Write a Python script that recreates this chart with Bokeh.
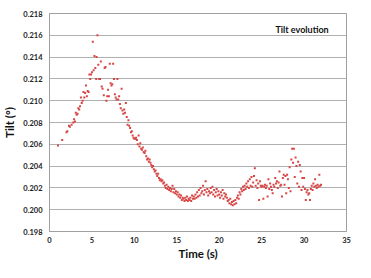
from bokeh.plotting import figure
from bokeh.models import FixedTicker, PrintfTickFormatter, Label, Range1d
from bokeh.embed import file_html
from bokeh.resources import INLINE

title_text = "Tilt evolution"
x_label = "Time (s)"
y_label = "Tilt (°)"
x_ticks = [0, 5, 10, 15, 20, 25, 30, 35]
y_ticks = [0.198, 0.200, 0.202, 0.204, 0.206, 0.208, 0.210, 0.212, 0.214, 0.216, 0.218]

time_rise = [1.0, 1.5, 2.0, 2.1, 2.3, 2.4, 2.6, 2.8, 2.9, 3.0,
             3.1, 3.2, 3.3, 3.4, 3.5, 3.6, 3.7, 3.8, 3.9, 4.0,
             4.1, 4.2, 4.3, 4.4, 4.5, 4.6, 4.7, 4.8, 4.9, 5.0]
tilt_rise = [0.2059, 0.2064, 0.2071, 0.2072, 0.2077, 0.2076, 0.2078, 0.2080, 0.2083, 0.2081,
             0.2089, 0.2087, 0.2088, 0.2093, 0.2092, 0.2095, 0.2103, 0.2098, 0.2100, 0.2108,
             0.2103, 0.2107, 0.2114, 0.2104, 0.2109, 0.2108, 0.2124, 0.2120, 0.2124, 0.2126]

time_peak = [5.1, 5.2, 5.3, 5.4, 5.5, 5.55, 5.65, 5.75, 5.85, 5.95,
             6.05, 6.15, 6.25, 6.4, 6.5, 6.6, 6.7, 6.8, 6.9, 7.0,
             7.1, 7.2, 7.3, 7.4, 7.5, 7.6, 7.7, 7.8, 7.9, 8.0,
             8.1, 8.2, 8.3, 8.4, 8.5, 8.6, 8.7, 8.8, 8.9, 9.0]
tilt_peak = [0.2154, 0.2128, 0.2141, 0.2130, 0.2120, 0.2140, 0.2160, 0.2133, 0.2120, 0.2120,
             0.2136, 0.2113, 0.2111, 0.2105, 0.2130, 0.2131, 0.2100, 0.2104, 0.2110, 0.2104,
             0.2134, 0.2116, 0.2114, 0.2115, 0.2134, 0.2120, 0.2106, 0.2103, 0.2101, 0.2120,
             0.2101, 0.2104, 0.2097, 0.2093, 0.2111, 0.2091, 0.2088, 0.2092, 0.2089, 0.2098]

time_fall = [9.1, 9.2, 9.3, 9.4, 9.5, 9.6, 9.7, 9.8, 9.9, 10.0,
             10.1, 10.2, 10.3, 10.4, 10.5, 10.6, 10.7, 10.8, 10.9, 11.0,
             11.1, 11.2, 11.3, 11.4, 11.5, 11.6, 11.7, 11.8, 11.9, 12.0,
             12.1, 12.2, 12.3, 12.4, 12.5, 12.6, 12.7, 12.8, 12.9, 13.0,
             13.1, 13.2, 13.3, 13.4, 13.5, 13.6, 13.7, 13.8, 13.9, 14.0,
             14.1, 14.2, 14.3, 14.4, 14.5, 14.6, 14.7, 14.8, 14.9, 15.0]
tilt_fall = [0.2085, 0.2078, 0.2082, 0.2077, 0.2075, 0.2071, 0.2072, 0.2068, 0.2066, 0.2065,
             0.2065, 0.2066, 0.2064, 0.2060, 0.2068, 0.2058, 0.2061, 0.2056, 0.2055, 0.2057,
             0.2053, 0.2052, 0.2054, 0.2049, 0.2046, 0.2047, 0.2044, 0.2046, 0.2043, 0.2041,
             0.2039, 0.2040, 0.2037, 0.2035, 0.2036, 0.2033, 0.2031, 0.2033, 0.2029, 0.2027,
             0.2028, 0.2026, 0.2027, 0.2024, 0.2025, 0.2022, 0.2020, 0.2023, 0.2019, 0.2021,
             0.2018, 0.2020, 0.2017, 0.2019, 0.2022, 0.2016, 0.2019, 0.2015, 0.2017, 0.2014]

time_flat = [15.1, 15.2, 15.3, 15.4, 15.5, 15.6, 15.7, 15.8, 15.9, 16.0,
             16.1, 16.2, 16.3, 16.4, 16.5, 16.6, 16.7, 16.8, 16.9, 17.0,
             17.1, 17.2, 17.3, 17.4, 17.5, 17.6, 17.7, 17.8, 17.9, 18.0,
             18.1, 18.2, 18.3, 18.4, 18.5, 18.6, 18.7, 18.8, 18.9, 19.0,
             19.1, 19.2, 19.3, 19.4, 19.5, 19.6, 19.7, 19.8, 19.9, 20.0,
             20.1, 20.2, 20.3, 20.4, 20.5, 20.6, 20.7, 20.8, 20.9, 21.0,
             21.1, 21.2, 21.3, 21.4, 21.5, 21.6, 21.7, 21.8, 21.9, 22.0,
             22.1, 22.2, 22.3, 22.4, 22.5, 22.6, 22.7, 22.8, 22.9, 23.0]
tilt_flat = [0.2016, 0.2012, 0.2014, 0.2011, 0.2013, 0.2009, 0.2011, 0.2010, 0.2008, 0.2011,
             0.2009, 0.2012, 0.2008, 0.2010, 0.2009, 0.2011, 0.2008, 0.2013, 0.2010, 0.2012,
             0.2010, 0.2014, 0.2011, 0.2016, 0.2012, 0.2018, 0.2013, 0.2020, 0.2015, 0.2017,
             0.2022, 0.2014, 0.2018, 0.2026, 0.2016, 0.2019, 0.2013, 0.2017, 0.2015, 0.2020,
             0.2016, 0.2021, 0.2014, 0.2018, 0.2012, 0.2016, 0.2019, 0.2013, 0.2017, 0.2014,
             0.2011, 0.2016, 0.2013, 0.2018, 0.2010, 0.2015, 0.2012, 0.2014, 0.2011, 0.2008,
             0.2009, 0.2006, 0.2010, 0.2005, 0.2007, 0.2004, 0.2008, 0.2005, 0.2009, 0.2006,
             0.2011, 0.2013, 0.2010, 0.2016, 0.2014, 0.2019, 0.2017, 0.2021, 0.2018, 0.2022]

time_late = [23.1, 23.2, 23.3, 23.4, 23.5, 23.6, 23.7, 23.8, 23.9, 24.0,
             24.1, 24.2, 24.3, 24.4, 24.5, 24.6, 24.7, 24.8, 24.9, 25.0,
             25.1, 25.2, 25.3, 25.4, 25.5, 25.6, 25.7, 25.8, 25.9, 26.0,
             26.1, 26.2, 26.3, 26.4, 26.5, 26.6, 26.7, 26.8, 26.9, 27.0,
             27.1, 27.2, 27.3, 27.4, 27.5, 27.6, 27.7, 27.8, 27.9, 28.0,
             28.1, 28.2, 28.3, 28.4, 28.5, 28.6, 28.7, 28.8, 28.9, 29.0,
             29.1, 29.2, 29.3, 29.4, 29.5, 29.6, 29.7, 29.8, 29.9, 30.0,
             30.1, 30.2, 30.3, 30.4, 30.5, 30.6, 30.7, 30.8, 30.9, 31.0,
             31.1, 31.2, 31.3, 31.4, 31.5, 31.6, 31.7, 31.8, 31.9, 32.0]
tilt_late = [0.2019, 0.2024, 0.2021, 0.2026, 0.2020, 0.2028, 0.2022, 0.2030, 0.2021, 0.2025,
             0.2031, 0.2038, 0.2022, 0.2027, 0.2020, 0.2024, 0.2009, 0.2026, 0.2022, 0.2021,
             0.2022, 0.2010, 0.2021, 0.2023, 0.2020, 0.2022, 0.2012, 0.2028, 0.2019, 0.2024,
             0.2021, 0.2018, 0.2015, 0.2023, 0.2021, 0.2029, 0.2024, 0.2026, 0.2020, 0.2025,
             0.2035, 0.2022, 0.2023, 0.2012, 0.2029, 0.2032, 0.2023, 0.2031, 0.2015, 0.2032,
             0.2028, 0.2020, 0.2039, 0.2017, 0.2046, 0.2056, 0.2043, 0.2056, 0.2030, 0.2048,
             0.2040, 0.2024, 0.2044, 0.2021, 0.2041, 0.2035, 0.2018, 0.2029, 0.2021, 0.2029,
             0.2019, 0.2009, 0.2016, 0.2018, 0.2014, 0.2015, 0.2009, 0.2019, 0.2022, 0.2018,
             0.2024, 0.2021, 0.2028, 0.2022, 0.2020, 0.2023, 0.2021, 0.2032, 0.2022, 0.2023]

time_s = time_rise + time_peak + time_fall + time_flat + time_late
tilt_deg = tilt_rise + tilt_peak + tilt_fall + tilt_flat + tilt_late

FONT = "Lato"
GRID = "#b0b0b0"
FRAME = "#a0a0a0"

p = figure(width=355, height=262, output_backend="svg", toolbar_location=None,
           x_range=Range1d(0, 35), y_range=Range1d(0.198, 0.218),
           min_border_left=46, min_border_right=9, min_border_top=13, min_border_bottom=26)
p.background_fill_color = "white"
p.border_fill_color = "white"
p.outline_line_color = FRAME
p.outline_line_width = 1

p.scatter(time_s, tilt_deg, marker="square", size=2.0,
          fill_color="#d84545", line_color=None)

for ax in (p.xaxis[0], p.yaxis[0]):
    ax.axis_line_color = FRAME
    ax.major_tick_out = 0
    ax.major_tick_in = 0
    ax.minor_tick_out = 0
    ax.minor_tick_in = 0
    ax.major_label_text_font = FONT
    ax.major_label_text_font_style = "bold"
    ax.major_label_text_font_size = "7.5px"
    ax.major_label_text_color = "#222222"
    ax.axis_label_text_font = FONT
    ax.axis_label_text_font_style = "bold"
    ax.axis_label_text_font_size = "11.5px"
    ax.axis_label_text_color = "#111111"

p.xaxis[0].ticker = FixedTicker(ticks=x_ticks)
p.yaxis[0].ticker = FixedTicker(ticks=y_ticks)
p.yaxis[0].formatter = PrintfTickFormatter(format="%.3f")
p.xaxis[0].axis_label = x_label
p.yaxis[0].axis_label = y_label
p.xaxis[0].major_label_standoff = 5
p.yaxis[0].major_label_standoff = 7
p.xaxis[0].axis_label_standoff = 1
p.yaxis[0].axis_label_standoff = 4

p.xgrid.grid_line_color = None
p.ygrid.grid_line_color = GRID
p.ygrid.grid_line_width = 1

p.add_layout(Label(x=32.9, y=0.2165, text=title_text, text_font=FONT,
                   text_font_style="bold", text_font_size="9px",
                   text_align="right", text_baseline="middle", text_color="#111111"))

open("out.html", "w").write(file_html(p, INLINE))
